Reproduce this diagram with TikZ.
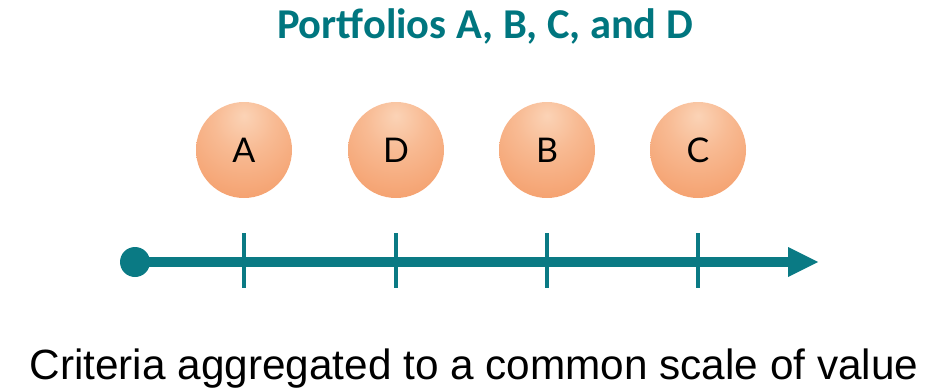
\documentclass[tikz,border=0pt]{standalone}
\usepackage{fontspec}
\setmainfont{Liberation Sans}
\newfontfamily\titlefont{Carlito}
\newfontfamily\letterfont{Lato}
\usetikzlibrary{arrows.meta}
\definecolor{teal1}{HTML}{0A7A84}
\definecolor{titleteal}{HTML}{00767F}
\definecolor{orlight}{HTML}{FBD3B6}
\definecolor{ormid}{HTML}{F49C68}
\definecolor{ordark}{HTML}{E87C40}
\pgfdeclareradialshading{orangeball}{\pgfpoint{0bp}{18bp}}{color(0bp)=(orlight); color(16bp)=(orlight!55!ormid); color(42bp)=(ormid); color(66bp)=(ordark); color(100bp)=(ordark)}
\tikzset{
  ball/.style={circle, minimum size=96pt, inner sep=0pt, shading=orangeball, font=\letterfont\fontsize{34}{34}\selectfont},
  tick/.style={draw=teal1, line width=3.5pt},
  axis/.style={draw=teal1, line width=10pt},
}
\begin{document}
\begin{tikzpicture}[x=1pt,y=-1pt]
\useasboundingbox (0,0) rectangle (949,388);
\node[text=titleteal, font=\titlefont\bfseries\fontsize{42.5}{42.5}\selectfont, anchor=base] (title) at (485,38) {Portfolios A, B, C, and D};
\node[ball] (A) at (244,150) {A};
\node[ball] (D) at (396,150) {D};
\node[ball] (B) at (547,150) {B};
\node[ball] (C) at (698,150) {C};
\coordinate (start) at (135,262);
\coordinate (end) at (790,262);
\draw[axis] (start) -- (end);
\fill[teal1] (start) circle (15);
\fill[teal1] (788,247) -- (818,262) -- (788,277) -- cycle;
\foreach \n in {A,D,B,C} {
  \draw[tick] (\n |- 0,233) -- (\n |- 0,288);
}
\node[anchor=base, font=\fontsize{42.3}{42.3}\selectfont] (caption) at (474,379) {Criteria aggregated to a common scale of value};
\end{tikzpicture}
\end{document}
